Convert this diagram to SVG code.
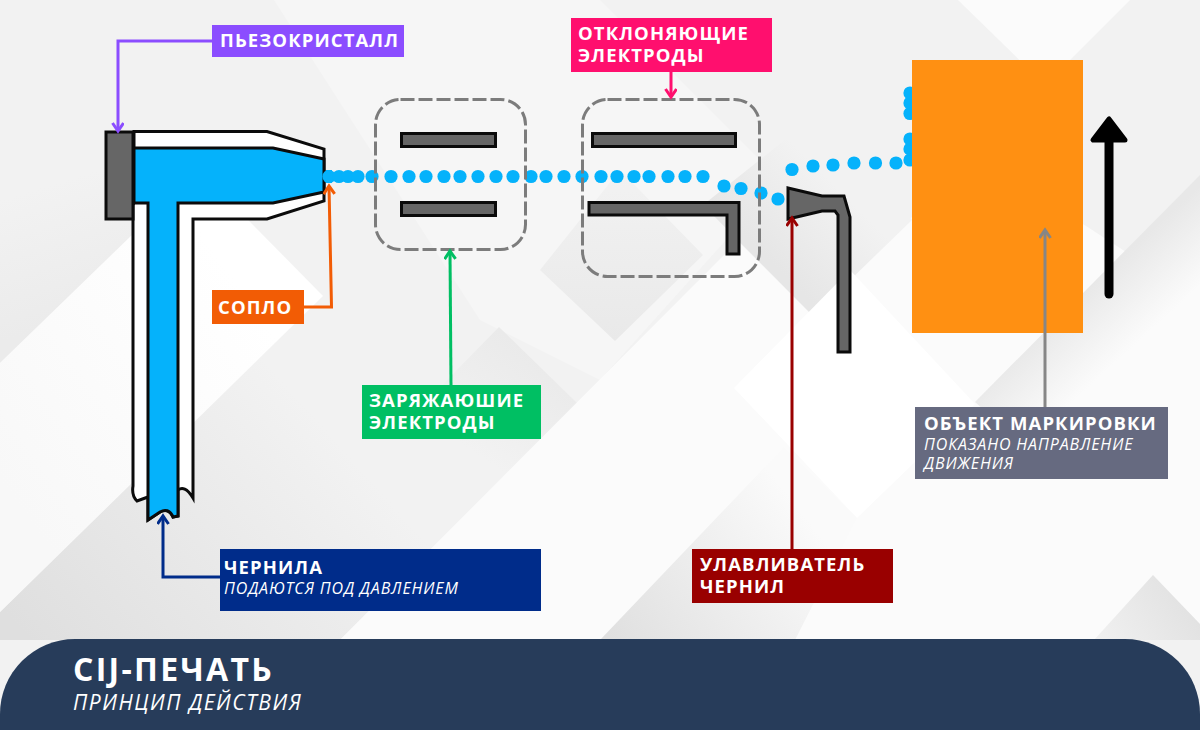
<svg xmlns="http://www.w3.org/2000/svg" width="1200" height="730" viewBox="0 0 1200 730">
<style>
text{font-family:"Open Sans","Noto Sans",sans-serif;fill:#fff}
.b{font-size:18.5px;font-weight:700;letter-spacing:1.1px}
.i{font-size:16px;font-style:italic;font-weight:400;letter-spacing:.88px}
.ol{stroke:#0b0b0b;stroke-width:3;stroke-linejoin:miter}
.g{fill:#666;stroke:#0b0b0b;stroke-width:3}
.d{fill:none;stroke:#7c7c7c;stroke-width:3;stroke-dasharray:14 4}
.c{fill:none;stroke-width:3}
.drops circle{fill:#05b2fb;r:6.6px}
</style>
<defs>
<linearGradient id="g0" gradientUnits="userSpaceOnUse" x1="40" y1="330" x2="0" y2="200"><stop offset="0" stop-color="#ebebeb"/><stop offset="1" stop-color="#f2f2f2"/></linearGradient>
<linearGradient id="g1" gradientUnits="userSpaceOnUse" x1="30" y1="640" x2="300" y2="400"><stop offset="0" stop-color="#dfdfdf"/><stop offset="1" stop-color="#f2f2f2"/></linearGradient>
<linearGradient id="g2" gradientUnits="userSpaceOnUse" x1="520" y1="310" x2="440" y2="430"><stop offset="0" stop-color="#e8e8e8"/><stop offset="1" stop-color="#f2f2f2"/></linearGradient>
<linearGradient id="g3" x1="0" y1="0" x2="0" y2="1"><stop offset="0" stop-color="#f2f2f2"/><stop offset="1" stop-color="#e9e9e9"/></linearGradient>
<linearGradient id="g4" gradientUnits="userSpaceOnUse" x1="770" y1="260" x2="840" y2="190"><stop offset="0" stop-color="#e6e6e6"/><stop offset="1" stop-color="#f2f2f2"/></linearGradient>
<linearGradient id="g5" gradientUnits="userSpaceOnUse" x1="1085" y1="290" x2="1135" y2="345"><stop offset="0" stop-color="#e8e8e8"/><stop offset="1" stop-color="#fbfbfb"/></linearGradient>
<linearGradient id="g6" gradientUnits="userSpaceOnUse" x1="620" y1="650" x2="800" y2="510"><stop offset="0" stop-color="#e0e0e0"/><stop offset="1" stop-color="#fafafa"/></linearGradient>
<linearGradient id="g7" gradientUnits="userSpaceOnUse" x1="1100" y1="640" x2="1180" y2="590"><stop offset="0" stop-color="#f0f0f0"/><stop offset="1" stop-color="#e2e2e2"/></linearGradient>
<linearGradient id="w1" gradientUnits="userSpaceOnUse" x1="0" y1="480" x2="250" y2="300"><stop offset="0" stop-color="#f8f8f8"/><stop offset="1" stop-color="#ffffff"/></linearGradient>
<marker id="mp" markerWidth="14" markerHeight="14" refX="10" refY="6" orient="auto" markerUnits="userSpaceOnUse"><path d="M2 0.500 L10 6 L2 11.500" fill="none" stroke="#8b4dff" stroke-width="3"/></marker>
<marker id="mo" markerWidth="14" markerHeight="14" refX="10" refY="6" orient="auto" markerUnits="userSpaceOnUse"><path d="M2 0.500 L10 6 L2 11.500" fill="none" stroke="#f25c05" stroke-width="3"/></marker>
<marker id="mg" markerWidth="14" markerHeight="14" refX="10" refY="6" orient="auto" markerUnits="userSpaceOnUse"><path d="M2 0.500 L10 6 L2 11.500" fill="none" stroke="#00bf63" stroke-width="3"/></marker>
<marker id="mk" markerWidth="14" markerHeight="14" refX="10" refY="6" orient="auto" markerUnits="userSpaceOnUse"><path d="M2 0.500 L10 6 L2 11.500" fill="none" stroke="#ff0f6e" stroke-width="3"/></marker>
<marker id="mn" markerWidth="14" markerHeight="14" refX="10" refY="6" orient="auto" markerUnits="userSpaceOnUse"><path d="M2 0.500 L10 6 L2 11.500" fill="none" stroke="#002c8a" stroke-width="3"/></marker>
<marker id="mr" markerWidth="14" markerHeight="14" refX="10" refY="6" orient="auto" markerUnits="userSpaceOnUse"><path d="M2 0.500 L10 6 L2 11.500" fill="none" stroke="#990000" stroke-width="3"/></marker>
<marker id="my" markerWidth="14" markerHeight="14" refX="10" refY="6" orient="auto" markerUnits="userSpaceOnUse"><path d="M2 0.500 L10 6 L2 11.500" fill="none" stroke="#868686" stroke-width="3"/></marker>
</defs>
<g id="background">
<rect width="1200" height="730" fill="#f2f2f2"/>
<path d="M0 180 L200 0 L274 0 L199 170 L0 363Z" fill="url(#g0)"/>
<path d="M274 0 H600 L780 180 L600 380 L480 320Z" fill="#f6f6f6"/>
<path d="M0 612 L323 296 L452 375 L578 404 L340 640 H0Z" fill="url(#g1)"/>
<path d="M452 375 L499 327 L578 404 L480 500 L400 430Z" fill="url(#g2)"/>
<path d="M0 363 L199 170 L323 296 L0 612Z" fill="url(#w1)"/>
<path d="M340 640 L578 404 L1000 640Z" fill="#f8f8f8"/>
<path d="M703 255 L615 341 L540 270 L620 170Z" fill="url(#g3)"/>
<path d="M340 640 L738 241 L813 316 L975 154 L1200 300 V640Z" fill="#fbfbfb"/>
<path d="M703 205 L813 316 L912 220 L810 120Z" fill="url(#g4)"/>
<path d="M734 388 L850 270 L975 404 L857 518Z" fill="#fff"/>
<path d="M1200 175 L975 402 L1040 460 L1200 320Z" fill="url(#g5)"/>
<path d="M600 640 L784 447 L857 518 L795 640Z" fill="url(#g6)"/>
<path d="M1153 575 L1200 624 V640 H1094Z" fill="url(#g7)"/>
<path d="M958 0 H1130 L1045 85Z" fill="#fbfbfb"/>
</g>
<g id="head">
<path class="ol" d="M134 131.500 L267 131.500 L324 149 L324 201 L267 219 L193 219 L193 498 C187 488 182 487 178 490 L178 516 L173 517 C170 510 165 509 160 512 L148 520 L148 497 L137 501 C133 497 132 492 133 486 L133 205 L134 203Z" fill="#fff"/>
<path class="ol" d="M134 148 L273 148 L324 159 L324 192 L273 203 L178 203 L178 516 L173 517 C170 510 165 509 160 512 L148 520 L148 203 L134 203Z" fill="#05b2fb"/>
<path d="M326 170 H332 V183 H326Z" fill="#05b2fb"/>
</g>
<g id="crystal"><rect x="106" y="132" width="27" height="87" class="g"/></g>
<g id="drops" class="drops">
<circle cx="329" cy="176.500"/><circle cx="339" cy="176.500"/><circle cx="348" cy="176.500"/><circle cx="358" cy="176.500"/><circle cx="372" cy="176.500"/><circle cx="391" cy="176.500"/><circle cx="409" cy="176.500"/><circle cx="426" cy="176.500"/><circle cx="444" cy="176.500"/><circle cx="460" cy="176.500"/><circle cx="478" cy="176.500"/><circle cx="496" cy="176.500"/><circle cx="513" cy="176.500"/><circle cx="531" cy="176.500"/><circle cx="546" cy="176.500"/><circle cx="564" cy="176.500"/><circle cx="582" cy="176.500"/><circle cx="601" cy="176.500"/><circle cx="617" cy="176.500"/><circle cx="634" cy="176.500"/><circle cx="649" cy="176.500"/><circle cx="668" cy="176.500"/><circle cx="685" cy="176.500"/><circle cx="703" cy="176.500"/><circle cx="724" cy="186"/><circle cx="741" cy="188.500"/><circle cx="761" cy="193"/><circle cx="778" cy="199"/><circle cx="792" cy="169.500"/><circle cx="813" cy="166"/><circle cx="833" cy="165"/><circle cx="854" cy="163"/><circle cx="875.500" cy="163"/><circle cx="896" cy="163"/><circle cx="910" cy="160"/><circle cx="910" cy="149"/><circle cx="910" cy="139"/><circle cx="910" cy="113.500"/><circle cx="910" cy="103"/><circle cx="910" cy="93"/>
</g>
<g id="charging-electrodes">
<rect x="375.500" y="99.500" width="150" height="150" rx="25" class="d"/>
<rect x="401.500" y="133.500" width="94" height="13" class="g"/>
<rect x="401.500" y="202.500" width="94" height="13" class="g"/>
</g>
<g id="deflecting-electrodes">
<rect x="582.500" y="99.500" width="177" height="177" rx="25" class="d"/>
<rect x="592.500" y="133.500" width="143" height="13" class="g"/>
<path class="g" d="M589 202.500 H739 V254 H727 V215 H589Z"/>
</g>
<g id="catcher"><path class="g" d="M788 188 L822 196 H844 L850 217 V352 H838 V215 L835 211 H822 L788 219Z"/></g>
<g id="target"><rect x="912" y="60" width="171" height="273" fill="#ff9012"/></g>
<g id="direction"><path d="M1109 294 V135" stroke="#000" stroke-width="9" stroke-linecap="round" fill="none"/><path d="M1109 119 L1093 140 H1125Z" fill="#000" stroke="#000" stroke-width="5" stroke-linejoin="round"/></g>
<g id="connectors">
<path class="c" stroke="#8b4dff" d="M212 41 H118 V131" marker-end="url(#mp)"/>
<path class="c" stroke="#f25c05" d="M304 307 H331.500 L329 186" marker-end="url(#mo)"/>
<path class="c" stroke="#00bf63" d="M451 385 L450 251" marker-end="url(#mg)"/>
<path class="c" stroke="#ff0f6e" d="M671 72 V97" marker-end="url(#mk)"/>
<path class="c" stroke="#002c8a" d="M220 577 H163 V516" marker-end="url(#mn)"/>
<path class="c" stroke="#990000" d="M792 549 V218" marker-end="url(#mr)"/>
<path class="c" stroke="#868686" d="M1045 407 V230" marker-end="url(#my)"/>
</g>
<g id="label-piezo"><rect x="212" y="25" width="192" height="32" fill="#8b4dff"/><text class="b" x="220" y="47">ПЬЕЗОКРИСТАЛЛ</text></g>
<g id="label-deflect"><rect x="571" y="18" width="201" height="54" fill="#ff0f6e"/><text class="b" x="578" y="40">ОТКЛОНЯЮЩИЕ<tspan x="578" y="62">ЭЛЕКТРОДЫ</tspan></text></g>
<g id="label-nozzle"><rect x="212" y="290" width="92" height="34" fill="#f25c05"/><text class="b" x="218" y="314">СОПЛО</text></g>
<g id="label-charge"><rect x="362" y="385" width="179" height="54" fill="#00bf63"/><text class="b" x="369" y="407">ЗАРЯЖАЮШИЕ<tspan x="369" y="429">ЭЛЕКТРОДЫ</tspan></text></g>
<g id="label-ink"><rect x="220" y="549" width="321" height="62" fill="#002c8a"/><text class="b" x="224" y="574">ЧЕРНИЛА<tspan class="i" x="224" y="594">ПОДАЮТСЯ ПОД ДАВЛЕНИЕМ</tspan></text></g>
<g id="label-catcher"><rect x="692" y="549" width="201" height="54" fill="#990000"/><text class="b" x="700" y="571">УЛАВЛИВАТЕЛЬ<tspan x="700" y="593">ЧЕРНИЛ</tspan></text></g>
<g id="label-target"><rect x="915" y="407" width="253" height="72" fill="#666a80"/><text class="b" x="924" y="430">ОБЪЕКТ МАРКИРОВКИ<tspan class="i" x="924" y="450">ПОКАЗАНО НАПРАВЛЕНИЕ</tspan><tspan class="i" x="924" y="469">ДВИЖЕНИЯ</tspan></text></g>
<g id="footer"><path d="M0 730 V714 A75 75 0 0 1 75 639 H1125 A75 75 0 0 1 1200 714 V730Z" fill="#273c5a"/>
<text x="73" y="681" style="font-size:32px;font-weight:700;letter-spacing:2.3px">CIJ-ПЕЧАТЬ<tspan x="73" y="710" style="font-size:21px;font-style:italic;font-weight:400;letter-spacing:1.55px">ПРИНЦИП ДЕЙСТВИЯ</tspan></text></g>
</svg>
